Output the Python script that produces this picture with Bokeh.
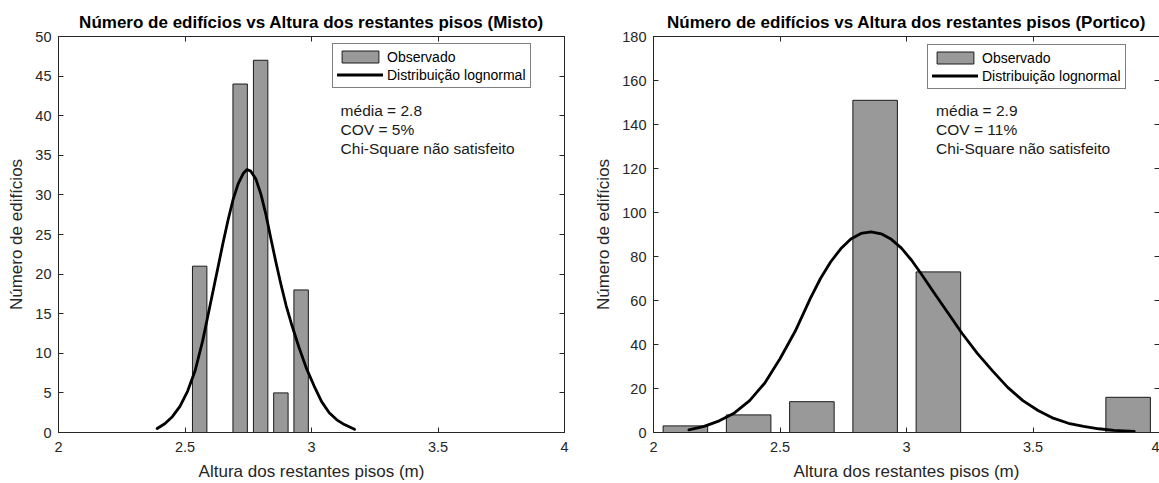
from bokeh.plotting import figure
from bokeh.models import Range1d, LinearAxis, FixedTicker, Legend, LegendItem
from bokeh.layouts import row
from bokeh.embed import file_html
from bokeh.resources import INLINE
from bokeh.core.properties import value

# ---------------- DATA ----------------
x_ticks = [2, 2.5, 3, 3.5, 4]
x_tick_labels = ["2", "2.5", "3", "3.5", "4"]

misto_title = "Número de edifícios vs Altura dos restantes pisos (Misto)"
misto_centers = [2.558, 2.638, 2.718, 2.799, 2.879, 2.959]
misto_counts = [21, 0, 44, 47, 5, 18]
misto_fit_x = [2.39, 2.42, 2.45, 2.48, 2.51, 2.54, 2.57, 2.60, 2.63, 2.65, 2.67, 2.69,
               2.71, 2.73, 2.745, 2.76, 2.78, 2.80, 2.82, 2.84, 2.86, 2.88, 2.90, 2.92,
               2.95, 2.98, 3.01, 3.04, 3.07, 3.10, 3.13, 3.17]
misto_fit_y = [0.5, 1.1, 2.0, 3.3, 5.2, 7.8, 11.6, 16.2, 20.8, 23.9, 26.8, 29.4,
               31.4, 32.7, 33.2, 33.0, 32.0, 30.1, 27.5, 24.4, 21.4, 18.6, 16.0, 13.8,
               10.8, 8.1, 5.9, 3.9, 2.5, 1.6, 1.0, 0.4]
misto_y_ticks = [0, 5, 10, 15, 20, 25, 30, 35, 40, 45, 50]
misto_notes = ["média = 2.8", "COV = 5%", "Chi-Square não satisfeito"]

portico_title = "Número de edifícios vs Altura dos restantes pisos (Portico)"
portico_centers = [2.126, 2.376, 2.626, 2.876, 3.126, 3.376, 3.626, 3.876]
portico_counts = [3, 8, 14, 151, 73, 0, 0, 16]
portico_fit_x = [2.14, 2.20, 2.26, 2.32, 2.38, 2.44, 2.50, 2.56, 2.62, 2.66, 2.70, 2.74,
                 2.78, 2.82, 2.86, 2.90, 2.94, 2.98, 3.02, 3.06, 3.10, 3.16, 3.22, 3.28,
                 3.34, 3.40, 3.46, 3.52, 3.58, 3.64, 3.70, 3.76, 3.82, 3.90]
portico_fit_y = [1.2, 2.8, 5.3, 8.9, 14.5, 22.5, 33.5, 46.0, 61.0, 70.0, 77.5, 83.5,
                 88.0, 90.5, 91.2, 90.3, 87.8, 83.8, 78.3, 71.8, 65.0, 55.0, 45.0, 36.0,
                 28.0, 20.5, 14.5, 10.0, 6.5, 4.2, 2.8, 1.7, 1.0, 0.5]
portico_y_ticks = [0, 20, 40, 60, 80, 100, 120, 140, 160, 180]
portico_notes = ["média = 2.9", "COV = 11%", "Chi-Square não satisfeito"]

x_label = "Altura dos restantes pisos (m)"
y_label = "Número de edifícios"
legend_labels = ["Observado", "Distribuição lognormal"]

# ---------------- STYLE ----------------
FONT = "Liberation Sans"
AX = "#262626"


def style_axis(ax, ticks, show_labels, line=True, standoff=7):
    ax.ticker = FixedTicker(ticks=ticks)
    ax.major_tick_in = 5
    ax.major_tick_out = 0
    ax.minor_tick_line_color = None
    ax.major_tick_line_color = AX
    ax.axis_line_color = AX if line else None
    ax.major_label_text_font = FONT
    ax.major_label_text_color = AX
    if show_labels:
        ax.major_label_text_font_size = "14.5px"
        ax.major_label_standoff = standoff
    else:
        ax.major_label_text_font_size = "0px"
        ax.major_label_standoff = 0
        ax.major_label_text_alpha = 0


def make_panel(title, centers, counts, bar_w, fx, fy, y_max, y_ticks, notes, note_x,
               note_y, width, b_left, b_right, b_top, b_bottom, legend_loc, right_line):
    p = figure(width=width, height=483, output_backend="svg", toolbar_location=None,
               x_range=Range1d(2, 4), y_range=Range1d(0, y_max),
               min_border_left=b_left, min_border_right=b_right,
               min_border_top=b_top, min_border_bottom=b_bottom,
               x_axis_location=None, y_axis_location=None)
    p.grid.visible = False
    p.outline_line_color = AX if right_line else None
    p.background_fill_color = "white"
    p.border_fill_color = "white"

    bottom = LinearAxis(axis_label=x_label)
    style_axis(bottom, x_ticks, True, standoff=9)
    bottom.major_label_overrides = {t: s for t, s in zip(x_ticks, x_tick_labels)}
    bottom.axis_label_text_font = FONT
    bottom.axis_label_text_font_size = "17px"
    bottom.axis_label_text_font_style = "normal"
    bottom.axis_label_text_color = AX
    bottom.axis_label_standoff = 7
    p.add_layout(bottom, "below")

    left = LinearAxis(axis_label=y_label)
    style_axis(left, y_ticks, True)
    left.major_label_overrides = {t: str(t) for t in y_ticks}
    left.axis_label_text_font = FONT
    left.axis_label_text_font_size = "17px"
    left.axis_label_text_font_style = "normal"
    left.axis_label_text_color = AX
    left.axis_label_standoff = 6
    p.add_layout(left, "left")

    top = LinearAxis()
    style_axis(top, x_ticks, False)
    p.add_layout(top, "above")

    right = LinearAxis()
    style_axis(right, y_ticks, False, line=right_line)
    p.add_layout(right, "right")

    p.title.text = title
    p.title.text_font = FONT
    p.title.text_font_size = "17px"
    p.title.text_font_style = "bold"
    p.title.text_color = "#000000"
    p.title.align = "center"
    p.title.standoff = 9

    bars = p.vbar(x=centers, top=counts, bottom=0, width=bar_w,
                  fill_color="#999999", line_color="#1a1a1a", line_width=1)
    curve = p.line(x=fx, y=fy, line_color="#000000", line_width=2.8,
                   line_join="round", line_cap="round")

    p.text(x=[note_x] * len(notes), y=note_y, text=notes,
           text_font=value(FONT), text_font_size=value("15.5px"),
           text_baseline="middle", text_align="left", text_color="#1a1a1a")

    legend = Legend(items=[LegendItem(label=legend_labels[0], renderers=[bars]),
                           LegendItem(label=legend_labels[1], renderers=[curve])],
                    location=legend_loc)
    legend.label_text_font = FONT
    legend.label_text_font_size = "14px"
    legend.label_text_color = "#000000"
    legend.glyph_width = 46
    legend.glyph_height = 15
    legend.label_height = 17
    legend.label_standoff = 4
    legend.padding = 4
    legend.spacing = 1
    legend.margin = 0
    legend.border_line_color = "#000000"
    legend.border_line_width = 1
    legend.background_fill_alpha = 1
    p.add_layout(legend)
    return p


p1 = make_panel(misto_title, misto_centers, misto_counts, 0.057, misto_fit_x, misto_fit_y,
                50, misto_y_ticks, misto_notes, 3.115, [40.66, 38.2, 35.8],
                580, 58, 16, 32, 51, (274, 344), True)
p2 = make_panel(portico_title, portico_centers, portico_counts, 0.176, portico_fit_x,
                portico_fit_y, 180, portico_y_ticks, portico_notes, 3.117,
                [146.5, 137.6, 129.1], 579, 73, 0, 36, 49, (274, 343), False)

layout = row(p1, p2)
open("out.html", "w").write(file_html(layout, INLINE))
